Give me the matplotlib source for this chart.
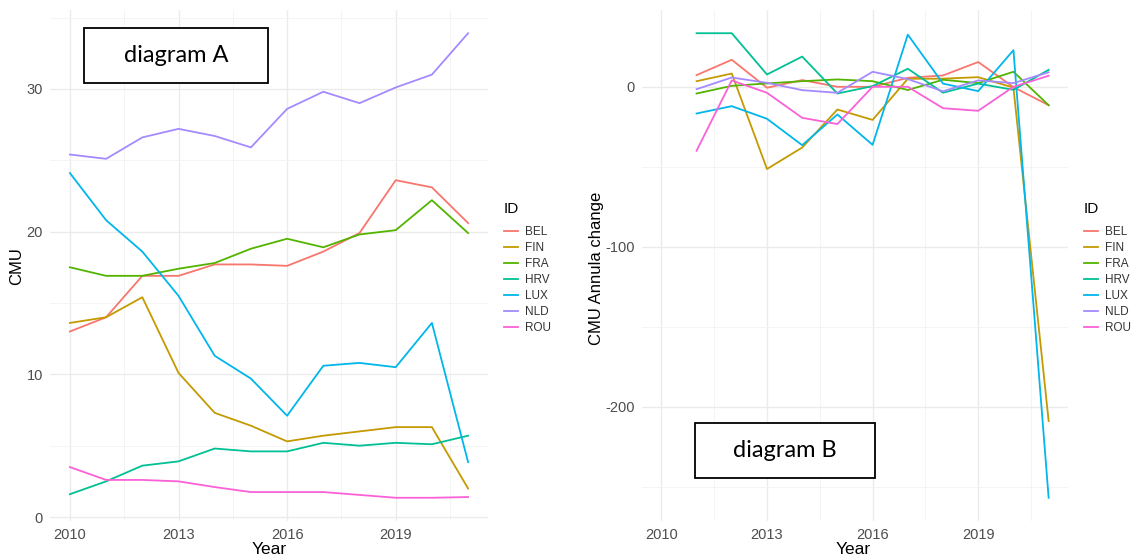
import numpy as np
import matplotlib.pyplot as plt
from matplotlib.patches import Rectangle
from matplotlib.ticker import FixedLocator

plt.rcParams['font.family'] = ['Liberation Sans', 'DejaVu Sans']
plt.rcParams['axes.unicode_minus'] = False

# Data
years = [2010, 2011, 2012, 2013, 2014, 2015, 2016, 2017, 2018, 2019, 2020, 2021]
ids = ['BEL', 'FIN', 'FRA', 'HRV', 'LUX', 'NLD', 'ROU']

# diagram A: CMU level
cmu_bel = [13.0, 14.0, 16.9, 16.9, 17.7, 17.7, 17.6, 18.6, 19.9, 23.6, 23.1, 20.6]
cmu_fin = [13.6, 14.0, 15.4, 10.1, 7.3, 6.4, 5.3, 5.7, 6.0, 6.3, 6.3, 2.0]
cmu_fra = [17.5, 16.9, 16.9, 17.4, 17.8, 18.8, 19.5, 18.9, 19.8, 20.1, 22.2, 19.9]
cmu_hrv = [1.6, 2.5, 3.6, 3.9, 4.8, 4.6, 4.6, 5.2, 5.0, 5.2, 5.1, 5.7]
cmu_lux = [24.1, 20.8, 18.6, 15.5, 11.3, 9.7, 7.1, 10.6, 10.8, 10.5, 13.6, 3.85]
cmu_nld = [25.4, 25.1, 26.6, 27.2, 26.7, 25.9, 28.6, 29.8, 29.0, 30.1, 31.0, 33.9]
cmu_rou = [3.5, 2.6, 2.6, 2.5, 2.1, 1.75, 1.75, 1.75, 1.55, 1.35, 1.35, 1.4]

# diagram B: annual change (starts in 2011)
chg_years = years[1:]
chg_bel = [7.3, 16.9, -0.6, 4.2, 0.0, 0.0, 5.6, 7.1, 15.5, -0.2, -11.5]
chg_fin = [3.5, 8.3, -51.4, -38.0, -14.2, -20.7, 5.0, 5.1, 6.0, -0.5, -209.0]
chg_fra = [-4.2, 0.6, 2.1, 3.5, 4.6, 3.5, -2.0, 4.4, 2.3, 9.4, -11.5]
chg_hrv = [33.5, 33.5, 7.7, 18.9, -4.2, 0.4, 11.3, -3.7, 2.0, -1.9, 10.6]
chg_lux = [-16.7, -12.1, -20.0, -36.5, -17.3, -36.3, 32.6, 2.0, -2.7, 22.9, -257.0]
chg_nld = [-1.5, 5.8, 2.5, -2.1, -3.75, 9.4, 4.8, -2.8, 4.0, 2.3, 9.1]
chg_rou = [-40.0, 4.0, -3.75, -19.4, -23.3, 0.0, 0.0, -13.4, -15.0, 0.0, 6.9]

cmu = [cmu_bel, cmu_fin, cmu_fra, cmu_hrv, cmu_lux, cmu_nld, cmu_rou]
chg = [chg_bel, chg_fin, chg_fra, chg_hrv, chg_lux, chg_nld, chg_rou]

# ggplot default hue palette for 7 groups
colors = ['#F8766D', '#C49A00', '#53B400', '#00C094', '#00B6EB', '#A58AFF', '#FB61D7']

W, H = 1132, 560
fig = plt.figure(figsize=(W / 100, H / 100), dpi=100)


def px_axes(x0, x1, y0, y1):
    # axes from pixel box (top-left origin)
    return fig.add_axes([x0 / W, 1 - y1 / H, (x1 - x0) / W, (y1 - y0) / H])


def style_axes(ax, yticks, yminor, series):
    vals = np.concatenate([np.array(s, dtype=float) for s in series])
    lo, hi = vals.min(), vals.max()
    pad = (hi - lo) * 0.05
    ax.set_ylim(lo - pad, hi + pad)
    ax.set_xlim(2010 - 0.55, 2021 + 0.55)
    ax.set_xticks([2010, 2013, 2016, 2019])
    ax.xaxis.set_minor_locator(FixedLocator([2011.5, 2014.5, 2017.5, 2020.5]))
    ax.set_yticks(yticks)
    ax.yaxis.set_minor_locator(FixedLocator(yminor))
    ax.grid(which='major', color='#EBEBEB', lw=1.0)
    ax.grid(which='minor', color='#F3F3F3', lw=0.6)
    ax.set_axisbelow(True)
    for sp in ax.spines.values():
        sp.set_visible(False)
    ax.tick_params(which='both', length=0, labelsize=10.5, labelcolor='#4D4D4D')
    ax.tick_params(axis='y', pad=5)
    ax.tick_params(axis='x', pad=5)


def add_legend(ax, x, y):
    # title drawn separately so the gap to the first key matches ggplot
    fig.text(x / W, 1 - y / H, 'ID', ha='left', va='center', fontsize=11)
    leg = ax.legend(loc='upper left', bbox_to_anchor=(x / W, 1 - (y + 17) / H),
                    bbox_transform=fig.transFigure, frameon=False, fontsize=8.5,
                    handlelength=1.2, handletextpad=0.6,
                    labelspacing=0.34, borderpad=0, borderaxespad=0)
    for t in leg.get_texts():
        t.set_color('#333333')


def add_box(x0, x1, y0, y1, label):
    fig.patches.append(Rectangle((x0 / W, 1 - y1 / H), (x1 - x0) / W, (y1 - y0) / H,
                                 transform=fig.transFigure, facecolor='white',
                                 edgecolor='black', lw=1.3, zorder=5))
    fig.text((x0 + x1) / 2 / W, 1 - (y0 + y1) / 2 / H, label, ha='center', va='center',
             fontsize=17, family=['Lato', 'DejaVu Sans'], zorder=6)


# diagram A
axA = px_axes(50, 488, 10, 521)
for name, vals, c in zip(ids, cmu, colors):
    axA.plot(years, vals, color=c, lw=1.3, label=name)
style_axes(axA, [0, 10, 20, 30], [5, 15, 25, 35], cmu)
add_legend(axA, 504, 209)
fig.text(269 / W, 1 - 550 / H, 'Year', ha='center', va='center', fontsize=12.5)
fig.text(17 / W, 1 - 266 / H, 'CMU', ha='center', va='center', fontsize=12, rotation=90)

# diagram B
axB = px_axes(642, 1068, 10, 521)
for name, vals, c in zip(ids, chg, colors):
    axB.plot(chg_years, vals, color=c, lw=1.3, label=name)
style_axes(axB, [0, -100, -200], [-50, -150, -250], chg)
add_legend(axB, 1084, 209)
fig.text(853 / W, 1 - 550 / H, 'Year', ha='center', va='center', fontsize=12.5)
fig.text(596 / W, 1 - 268 / H, 'CMU Annula change', ha='center', va='center',
         fontsize=12, rotation=90)

add_box(84, 268, 28, 83, 'diagram A')
add_box(695, 875, 423, 478, 'diagram B')

fig.savefig('out.png', dpi=100)
